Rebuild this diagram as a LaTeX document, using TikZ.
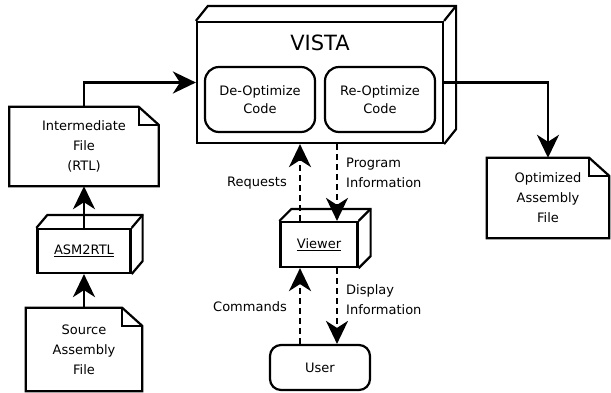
\documentclass[tikz,border=0pt]{standalone}
\usepackage{fontspec}
\setmainfont{DejaVu Sans}
\usetikzlibrary{arrows.meta}

% Rahmen, Pfeile und Schrift
\tikzset{
  outline/.style={line width=2.2pt, line join=miter},
  plain/.style={font=\fontsize{13}{20}\selectfont, align=center, inner sep=0pt},
  docfile/.style={plain},
  cube/.style={plain, draw, outline},
  proc/.style={plain, draw, outline, rounded corners=14pt, font=\fontsize{13}{18}\selectfont},
  flow/.style={outline, -{Stealth[length=23pt, width=22pt, inset=7pt]}},
  msg/.style={flow, dash pattern=on 6pt off 4pt},
  note/.style={font=\fontsize{13}{20}\selectfont, align=left, inner sep=0pt}
}

% Seite mit Eselsohr
\newcommand\docpage[1]{%
  \draw[outline] (#1.north west) -- ([xshift=-20pt]#1.north east) -- ([yshift=-18pt]#1.north east)
    -- (#1.south east) -- (#1.south west) -- cycle;
  \draw[outline] ([xshift=-20pt]#1.north east) |- ([yshift=-18pt]#1.north east);
}
% Tiefe eines Quaders
\newcommand\cubedepth[3]{%
  \draw[outline] (#1.north west) -- ++(#2,-#3) -- ([shift={(#2,-#3)}]#1.north east)
    -- ([shift={(#2,-#3)}]#1.south east) -- (#1.south east);
  \draw[outline] (#1.north east) -- ++(#2,-#3);
}

\begin{document}
\begin{tikzpicture}[x=1pt, y=-1pt]
  \useasboundingbox (0,0) rectangle (611,392);

  % linke Spalte
  \node[docfile, minimum width=149pt, minimum height=79pt] (inter) at (84,146.5) {Intermediate\\File\\(RTL)};
  \docpage{inter}
  \node[cube, minimum width=93pt, minimum height=44pt] (asm) at (84,251) {\underline{ASM2RTL}};
  \cubedepth{asm}{11}{13}
  \node[docfile, minimum width=116pt, minimum height=83pt] (src) at (84,349.5) {Source\\Assembly\\File};
  \docpage{src}

  % VISTA
  \node[cube, minimum width=246pt, minimum height=121pt] (vista) at (320,82.5) {};
  \cubedepth{vista}{12}{15}
  \node[font=\fontsize{21}{24}\selectfont, inner sep=0pt] (title) at (320,43) {VISTA};
  \node[proc, minimum width=110pt, minimum height=65pt] (deopt) at (260,99.5) {De-Optimize\\Code};
  \node[proc, minimum width=110pt, minimum height=65pt] (reopt) at (380,99.5) {Re-Optimize\\Code};

  % Ausgabe
  \node[docfile, minimum width=122pt, minimum height=80pt] (opt) at (548,198) {Optimized\\Assembly\\File};
  \docpage{opt}

  % Viewer und User
  \node[cube, minimum width=77pt, minimum height=45pt] (viewer) at (319,244.5) {\underline{Viewer}};
  \cubedepth{viewer}{12}{12}
  \node[proc, minimum width=100pt, minimum height=45pt, rounded corners=11pt] (user) at (320,367.5) {User};

  % Datenfluss
  \draw[flow] (src.north) -- (asm.south);
  \draw[flow] (asm.north) -- (inter.south);
  \draw[flow] (inter.north) |- (vista.west);
  \draw[flow] (vista.east) -| (opt.north);

  % Nachrichten
  \coordinate (rq) at ([xshift=-19pt]viewer.north);
  \coordinate (pi) at ([xshift=18pt]viewer.north);
  \coordinate (cm) at ([xshift=-19pt]viewer.south);
  \coordinate (di) at ([xshift=18pt]viewer.south);
  \draw[msg] (rq) -- (rq |- vista.south);
  \draw[msg] (pi |- vista.south) -- (pi);
  \draw[msg] (cm |- user.north) -- (cm);
  \draw[msg] (di) -- (di |- user.north);

  \node[note, anchor=east] (lrq) at (287,183) {Requests};
  \node[note, anchor=west] (lpi) at (346,173) {Program\\Information};
  \node[note, anchor=east] (lcm) at (287,307) {Commands};
  \node[note, anchor=west] (ldi) at (346,300) {Display\\Information};
\end{tikzpicture}
\end{document}
